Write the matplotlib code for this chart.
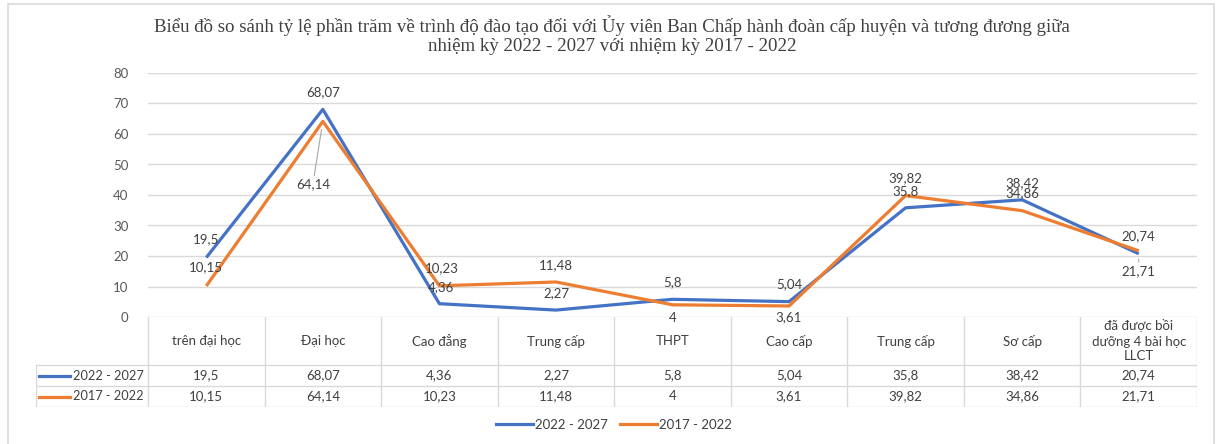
import matplotlib
matplotlib.use("Agg")
import matplotlib.pyplot as plt
from matplotlib.lines import Line2D
from matplotlib.patches import Rectangle

plt.rcParams['font.family'] = ['Lato', 'DejaVu Sans']

categories = ["trên đại học", "Đại học", "Cao đẳng", "Trung cấp", "THPT",
              "Cao cấp", "Trung cấp", "Sơ cấp", "đã được bồi\ndưỡng 4 bài học\nLLCT"]
series_names = ["2022 - 2027", "2017 - 2022"]
values_2022 = [19.5, 68.07, 4.36, 2.27, 5.8, 5.04, 35.8, 38.42, 20.74]
values_2017 = [10.15, 64.14, 10.23, 11.48, 4, 3.61, 39.82, 34.86, 21.71]
y_ticks = [0, 10, 20, 30, 40, 50, 60, 70, 80]
title = ("Biểu đồ so sánh tỷ lệ phần trăm về trình độ đào tạo đối với Ủy viên Ban Chấp hành "
         "đoàn cấp huyện và tương đương giữa\nnhiệm kỳ 2022 - 2027 với nhiệm kỳ 2017 - 2022")

colors = ['#4472C4', '#ED7D31']
grid_col = '#D9D9D9'
text_col = '#404040'

# label offsets in pixels (dx, dy) and whether to draw a leader line
offs_2022 = [(0, 18), (0, 17), (2, 17), (0, 17), (0, 17), (0, 17), (0, 17), (0, 17), (0, 18)]
offs_2017 = [(0, 19), (-10, -63), (2, 18), (0, 17), (0, -13), (0, -11), (0, 17), (0, 18), (0, -20)]
lead_2017 = [False, True, False, False, False, False, False, False, True]

W, H = 1218, 444
fig = plt.figure(figsize=(W / 100, H / 100), dpi=100)

# outer chart frame
fig.patches.append(Rectangle((8 / W, -0.05), (1214 - 8) / W, 1 - 4 / H + 0.05,
                             transform=fig.transFigure, fill=False, ec=grid_col, lw=1.2))

x0, x1 = 148, 1197
y0, y1 = 317, 73
cw = (x1 - x0) / 9
ax = fig.add_axes([x0 / W, 1 - y0 / H, (x1 - x0) / W, (y0 - y1) / H])
x = list(range(len(categories)))

for vals, name, c in zip([values_2022, values_2017], series_names, colors):
    ax.plot(x, vals, color=c, lw=2.3, label=name, solid_capstyle='butt', zorder=3)

ax.set_xlim(-0.5, 8.5)
ax.set_ylim(0, 80)
ax.set_yticks(y_ticks)
ax.set_xticks([])
ax.tick_params(axis='y', length=0, pad=14, labelsize=9.5, labelcolor='#595959')
for s in ax.spines.values():
    s.set_visible(False)
ax.grid(axis='y', color=grid_col, lw=1)
ax.set_axisbelow(True)


def fmt(v):
    return f"{v:g}".replace('.', ',')


for vals, offs, leads in [(values_2022, offs_2022, [False] * 9), (values_2017, offs_2017, lead_2017)]:
    for i, v in enumerate(vals):
        arrow = dict(arrowstyle='-', color='#A6A6A6', lw=0.8, shrinkA=0, shrinkB=6) if leads[i] else None
        ax.annotate(fmt(v), (i, v), xytext=offs[i], textcoords='offset pixels',
                    ha='center', va='center', fontsize=9.5, color=text_col,
                    arrowprops=arrow, zorder=5, annotation_clip=False)

# data table under the chart
tx0 = 36
tb = 407
tab = fig.add_axes([tx0 / W, 1 - tb / H, (x1 - tx0) / W, (tb - y0) / H])
left = -0.5 - (x0 - tx0) / cw
tab.set_xlim(left, 8.5)
tab.set_ylim(tb - y0, 0)
tab.axis('off')
rows = [0, 48, 69, 90]
for i in range(10):
    tab.plot([i - 0.5, i - 0.5], [0, rows[-1]], color=grid_col, lw=1)
tab.plot([left, left], [rows[1], rows[-1]], color=grid_col, lw=1)
for r in rows[1:]:
    tab.plot([left, 8.5], [r, r], color=grid_col, lw=1)

for i, cat in enumerate(categories):
    tab.text(i, (rows[0] + rows[1]) / 2, cat, ha='center', va='center', fontsize=9.5,
             color=text_col, linespacing=1.3)
for k, vals in enumerate([values_2022, values_2017]):
    yc = (rows[k + 1] + rows[k + 2]) / 2
    for i, v in enumerate(vals):
        tab.text(i, yc, fmt(v), ha='center', va='center', fontsize=9.5, color=text_col)
    tab.plot([left + 0.03, left + 0.29], [yc, yc], color=colors[k], lw=2.3)
    tab.text(-0.535, yc, series_names[k], ha='right', va='center', fontsize=9.2, color=text_col)

fig.text(612 / W, 1 - 35 / H, title, ha='center', va='center', fontsize=13.6,
         family='Liberation Serif', color=text_col, linespacing=1.15)

handles = [Line2D([], [], color=c, lw=2.3) for c in colors]
fig.legend(handles, series_names, loc='center', bbox_to_anchor=(614 / W, 1 - 425 / H),
           ncol=2, frameon=False, fontsize=9.5, handlelength=2.8, handletextpad=0.2,
           columnspacing=0.9, labelcolor=text_col)

fig.savefig('out.png', dpi=100)
